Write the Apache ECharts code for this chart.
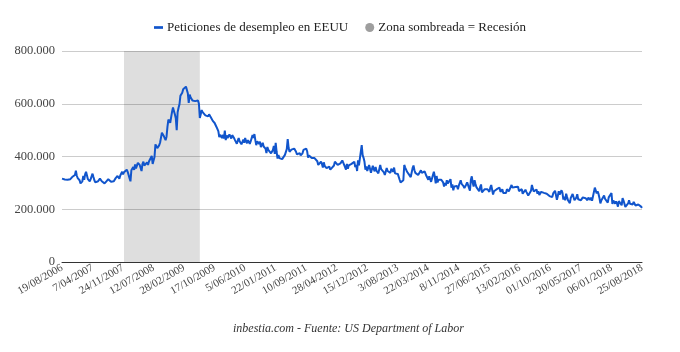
<!DOCTYPE html>
<html>
<head>
<meta charset="utf-8">
<script src="https://cdn.jsdelivr.net/npm/echarts@6/dist/echarts.min.js"></script>
<style>html,body{margin:0;padding:0;background:#fff}#c{width:680px;height:352px}</style>
</head>
<body>
<div id="c"></div>
<script>
// Weekly initial jobless claims (thousands), weeks ending Saturday, from 19/08/2006 to 25/08/2018
const y2006 = [316,314,320,313,318,310,312,305,310,314,318,322,326,321,330,346,327,318,322,310];
const y2007 = [298,294,306,326,312,332,342,328,314,310,306,314,318,335,322,310,302,298,302,306,310,316,312,306,312,302,298,302,306,312,314,318,310,304,300,308,306,312,318,322,326,320,316,328,334,342,332,340,346,336,350,342];
const y2008 = [338,318,306,348,352,360,349,370,355,358,376,381,368,375,345,372,380,366,364,372,378,368,381,384,388,402,372,368,398,446,442,432,430,442,452,458,490,496,478,470,462,475,512,540,536,528,532,570,586,572,560,545];
const y2009 = [500,568,585,598,630,628,642,655,660,662,665,658,640,603,635,625,622,612,618,606,610,604,603,612,600,546,560,576,568,565,570,556,562,558,552,560,557,548,542,535,530,527,522,512,505,496,474,482,476,470,482,468];
const y2010 = [498,462,480,470,474,484,478,468,481,476,470,462,458,448,460,470,458,452,446,455,464,452,470,458,450,462,455,448,458,452,481,470,485,462,443,458,452,448,456,436,436,452,438,445,430,413,436,425,420,418,412,408];
const y2011 = [425,440,410,452,418,392,406,394,400,398,390,396,392,406,412,428,466,432,418,424,426,420,426,430,424,418,408,414,410,413,404,410,412,425,418,424,430,420,396,404,406,400,394,398,392,394,400,390,382,368,372,375,380];
const y2012 = [372,358,378,364,360,356,350,354,362,350,348,358,356,366,380,385,382,368,372,370,374,380,385,382,378,360,350,372,354,366,362,366,372,374,366,380,360,368,345,385,366,370,362,443,405,395,380,350,362,345,350,368];
const y2013 = [362,338,342,365,352,344,360,346,340,336,342,368,352,346,352,340,330,328,356,345,352,345,338,354,348,342,358,336,342,330,334,328,312,302,308,306,310,368,358,350,342,340,332,326,322,318,356,366,348,338,340,345];
const y2014 = [330,326,332,348,338,336,340,344,348,326,320,312,325,326,304,302,330,342,324,298,326,302,312,316,314,312,316,302,286,300,290,310,298,298,304,314,282,294,272,286,280,282,288,276,290,292,310,296,292,288,280,282];
const y2015 = [294,302,308,296,270,312,325,300,286,310,296,284,288,282,268,284,294,264,266,262,276,282,278,276,270,266,282,292,286,256,268,268,272,276,274,270,282,266,264,276,262,256,260,262,276,272,268,264,270,292,282,278];
const y2016 = [277,284,290,278,285,269,262,272,276,259,265,262,274,266,264,252,248,256,270,292,278,268,266,264,275,259,268,254,253,266,267,261,262,258,262,259,254,260,250,249,248,246,260,258,270,254,236,250,268,256,252,272,262];
const y2017 = [237,247,234,259,246,234,241,223,243,241,258,261,234,235,244,257,238,236,232,234,229,245,241,244,242,248,234,244,240,236,244,232,235,236,282,276,260,268,258,243,222,233,229,239,252,240,240,238,225,245,247,250];
const y2018 = [261,220,233,230,221,230,222,210,231,226,229,215,242,233,232,209,211,211,222,234,221,222,218,218,228,231,214,207,217,218,213,212,210,205];

const tickLabels = ['19/08/2006','7/04/2007','24/11/2007','12/07/2008','28/02/2009','17/10/2009','5/06/2010','22/01/2011','10/09/2011','28/04/2012','15/12/2012','3/08/2013','22/03/2014','8/11/2014','27/06/2015','13/02/2016','01/10/2016','20/05/2017','06/01/2018','25/08/2018'];
const yTicks = [0, 200, 400, 600, 800];
const recessionStart = '2007-12-01';
const recessionEnd = '2009-06-27';
const startDate = '2006-08-19';

const claims = [].concat(y2006,y2007,y2008,y2009,y2010,y2011,y2012,y2013,y2014,y2015,y2016,y2017,y2018);
const categories = claims.map((_, i) => {
  const d = new Date(startDate + 'T00:00:00Z');
  d.setUTCDate(d.getUTCDate() + 7 * i);
  return d.toISOString().slice(0, 10);
});
const LABEL_STEP = 33;
const FONT = '"Liberation Serif", "DejaVu Serif", serif';

const chart = echarts.init(document.getElementById('c'), null, {renderer: 'canvas'});
chart.setOption({
  animation: false,
  backgroundColor: '#fff',
  title: {
    text: 'inbestia.com - Fuente: US Department of Labor',
    left: 228, top: 318,
    textStyle: {fontFamily: FONT, fontStyle: 'italic', fontWeight: 'normal', fontSize: 12, color: '#333'}
  },
  legend: {
    top: 16, left: 'center',
    itemWidth: 9, itemHeight: 9, itemGap: 17,
    textStyle: {fontFamily: FONT, fontSize: 13, color: '#222', padding: [0, 0, 0, -1]},
    data: [
      {name: 'Peticiones de desempleo en EEUU', icon: 'path://M0,0M0,3.5h10v3h-10zM10,10'},
      {name: 'Zona sombreada = Recesión', icon: 'circle'}
    ]
  },
  grid: {left: 62, right: 38, top: 51, bottom: 90, containLabel: false},
  xAxis: {
    type: 'category',
    data: categories,
    boundaryGap: false,
    axisLine: {lineStyle: {color: '#333', width: 1}},
    axisTick: {show: false},
    splitLine: {show: false},
    axisLabel: {
      interval: LABEL_STEP - 1,
      rotate: 30,
      margin: 5,
      fontFamily: FONT, fontSize: 11, color: '#444',
      formatter: (v, i) => tickLabels[Math.round(i / LABEL_STEP)] || ''
    }
  },
  yAxis: {
    type: 'value',
    min: yTicks[0], max: yTicks[yTicks.length - 1], interval: yTicks[1] - yTicks[0],
    axisLine: {show: false},
    axisTick: {show: false},
    splitLine: {lineStyle: {color: '#ccc', width: 1}},
    axisLabel: {
      margin: 7,
      fontFamily: FONT, fontSize: 12.5, color: '#444',
      formatter: v => v === 0 ? '0' : v + '.000'
    }
  },
  series: [
    {
      name: 'Peticiones de desempleo en EEUU',
      type: 'line',
      data: claims,
      showSymbol: false,
      symbol: 'none',
      lineStyle: {color: '#1155cc', width: 2},
      itemStyle: {color: '#1155cc'},
      z: 3,
      markArea: {
        silent: true,
        itemStyle: {color: 'rgba(0,0,0,0.13)'},
        data: [[{xAxis: recessionStart}, {xAxis: recessionEnd}]]
      }
    },
    {
      name: 'Zona sombreada = Recesión',
      type: 'line',
      data: [],
      itemStyle: {color: '#9e9e9e'},
      lineStyle: {color: '#9e9e9e'}
    }
  ]
});
</script>
</body>
</html>
